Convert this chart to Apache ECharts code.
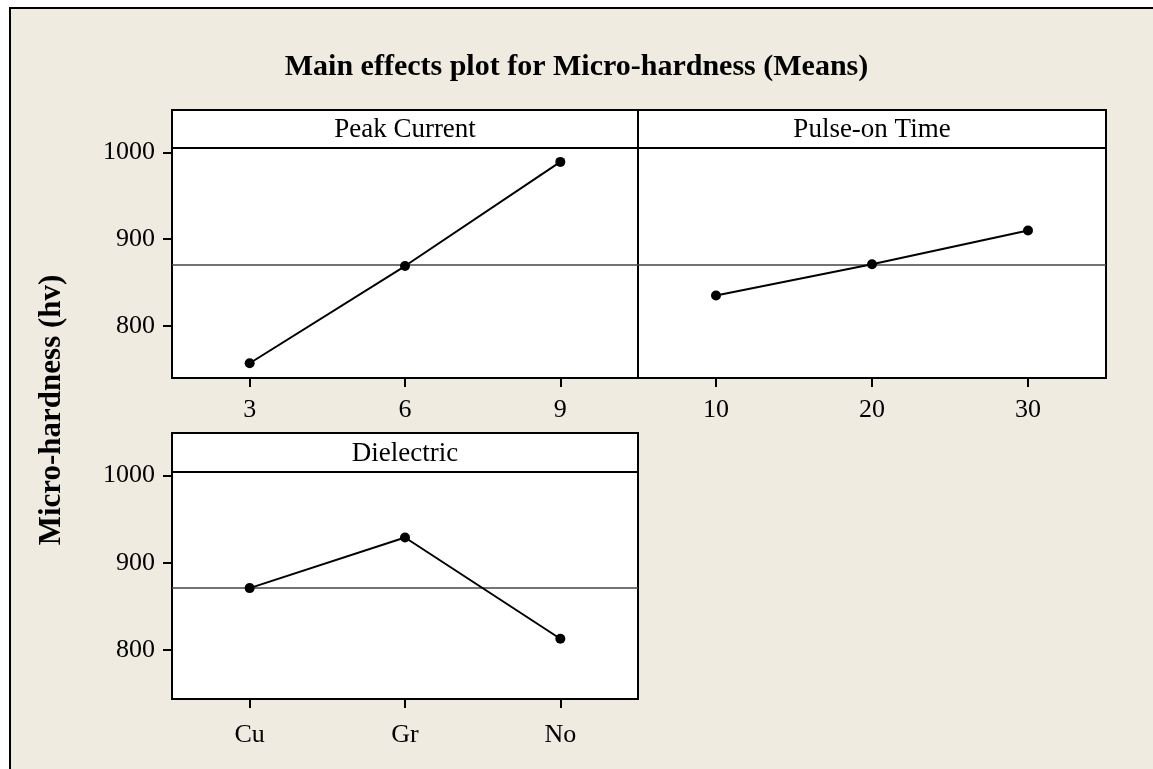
<!DOCTYPE html>
<html>
<head>
<meta charset="utf-8">
<script src="https://cdn.jsdelivr.net/npm/echarts@6/dist/echarts.min.js"></script>
<style>
  html, body { margin: 0; padding: 0; background: #fff; }
  #chart { width: 1153px; height: 769px; }
</style>
</head>
<body>
<div id="chart"></div>
<script>
// Factor levels and the mean micro-hardness (hv) at each level
const peakLevels = ['3', '6', '9'];
const peakMeans = [757, 869, 989];
const pulseLevels = ['10', '20', '30'];
const pulseMeans = [835, 871, 910];
const dielectricLevels = ['Cu', 'Gr', 'No'];
const dielectricMeans = [871, 929, 813];
const grandMean = 871;
const yTicks = [800, 900, 1000];
const panelTitles = ['Peak Current', 'Pulse-on Time', 'Dielectric'];

const FONT = '"Liberation Serif", "Times New Roman", serif';
const BEIGE = '#EFEBE1';

// Panel boxes (plot area of each factor)
const panels = [
  { left: 172, top: 148, width: 466, height: 230, min: 740, max: 1005, labelMargin: 19 },
  { left: 638, top: 148, width: 468, height: 230, min: 740, max: 1005, labelMargin: 19 },
  { left: 172, top: 472, width: 466, height: 227, min: 744, max: 1004, labelMargin: 23 }
];
const stripH = [38, 38, 39];
const levels = [peakLevels, pulseLevels, dielectricLevels];
const means = [peakMeans, pulseMeans, dielectricMeans];

const chart = echarts.init(document.getElementById('chart'), null, { renderer: 'canvas' });

const grids = panels.map(p => ({
  left: p.left, top: p.top, width: p.width, height: p.height,
  show: true, backgroundColor: '#fff', borderColor: '#000', borderWidth: 2,
  containLabel: false
}));

const xAxes = panels.map((p, i) => ({
  type: 'category', gridIndex: i, data: levels[i], boundaryGap: true,
  axisLine: { show: true, lineStyle: { color: '#000', width: 2 } },
  axisTick: { show: true, alignWithLabel: true, length: 9, lineStyle: { color: '#000', width: 2 } },
  axisLabel: { color: '#000', fontFamily: FONT, fontSize: 26, margin: p.labelMargin },
  splitLine: { show: false }
}));

const yAxes = panels.map((p, i) => ({
  type: 'value', gridIndex: i, min: p.min, max: p.max,
  show: i !== 1,
  axisLine: { show: true, lineStyle: { color: '#000', width: 2 } },
  axisTick: { show: true, length: 9, customValues: yTicks, lineStyle: { color: '#000', width: 2 } },
  axisLabel: {
    color: '#000', fontFamily: FONT, fontSize: 26, margin: 17,
    customValues: yTicks, formatter: v => String(v)
  },
  splitLine: { show: false }
}));

const series = panels.map((p, i) => ({
  type: 'line', xAxisIndex: i, yAxisIndex: i, data: means[i],
  symbol: 'circle', symbolSize: 10,
  itemStyle: { color: '#000' },
  lineStyle: { color: '#000', width: 2 },
  z: 5,
  markLine: {
    silent: true, symbol: 'none', label: { show: false },
    lineStyle: { color: '#444', width: 1.5, type: 'solid' },
    data: [{ yAxis: grandMean }],
    z: 3
  }
}));

// Frame, factor strips and the shared y-axis title
const graphics = [
  {
    type: 'rect', z: -10, silent: true,
    shape: { x: 10, y: 8, width: 1200, height: 800 },
    style: { fill: BEIGE, stroke: '#000', lineWidth: 2 }
  }
];
panels.forEach((p, i) => {
  graphics.push({
    type: 'rect', z: 10, silent: true,
    shape: { x: p.left, y: p.top - stripH[i], width: p.width, height: stripH[i] },
    style: { fill: '#fff', stroke: '#000', lineWidth: 2 }
  });
  graphics.push({
    type: 'text', z: 11, silent: true,
    x: p.left + p.width / 2, y: p.top - stripH[i] / 2 + 1,
    style: {
      text: panelTitles[i], fill: '#000', font: '27px ' + FONT,
      textAlign: 'center', textVerticalAlign: 'middle'
    }
  });
});
graphics.push({
  type: 'text', z: 11, silent: true,
  x: 52, y: 410, rotation: Math.PI / 2,
  style: {
    text: 'Micro-hardness (hv)', fill: '#000', font: 'bold 31px ' + FONT,
    textAlign: 'center', textVerticalAlign: 'middle'
  }
});

chart.setOption({
  animation: false,
  backgroundColor: '#fff',
  title: {
    text: 'Main effects plot for Micro-hardness (Means)',
    left: 'center', top: 47,
    textStyle: { fontFamily: FONT, fontSize: 30, fontWeight: 'bold', color: '#000' }
  },
  grid: grids,
  xAxis: xAxes,
  yAxis: yAxes,
  series: series,
  graphic: graphics
});
</script>
</body>
</html>
